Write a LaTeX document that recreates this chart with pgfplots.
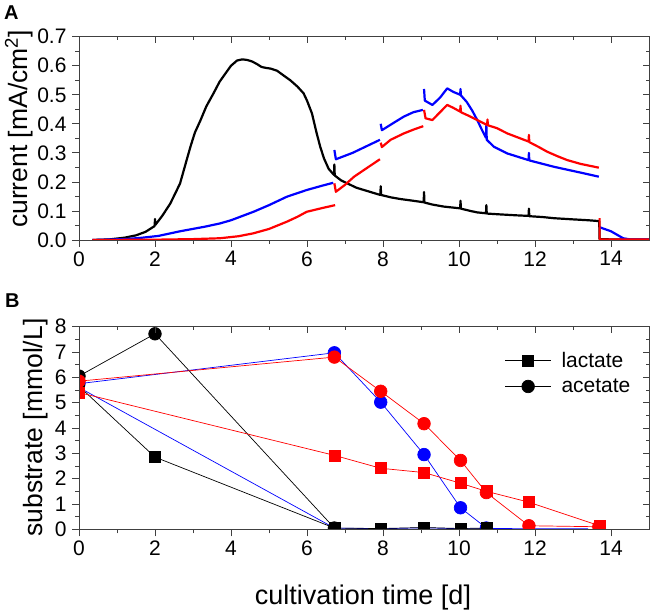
\documentclass[border=0pt]{standalone}
\usepackage{fontspec}
\setmainfont{Liberation Sans}
\usepackage{pgfplots}
\pgfplotsset{compat=1.18}
\definecolor{myblue}{RGB}{0,0,255}
\definecolor{myred}{RGB}{255,0,0}
\pgfplotsset{
  common/.style={
    scale only axis, width=570pt, xmin=0, xmax=15,
    xtick={0,2,4,6,8,10,12,14}, minor x tick num=1,
    axis line style={black!75, line width=0.8pt},
    tick style={black!75, line width=0.8pt},
    tick label style={font=\fontsize{21}{24}\selectfont, black},
    /pgf/number format/assume math mode=true,
    clip marker paths=true,
  },
  outer/.style={common, tick align=outside, xtick pos=bottom, ytick pos=left,
    major tick length=7pt, minor tick length=4pt,
    xticklabel style={yshift=-1pt}, yticklabel style={xshift=-2pt}},
  inner/.style={common, tick align=inside, xtick pos=top, ytick pos=right,
    major tick length=6pt, minor tick length=3.5pt, xticklabels={}, yticklabels={}},
  curve/.style={line width=2.2pt, no marks, line join=round},
  pts/.style={line width=0.7pt},
  panelA/.style={at={(79pt,372pt)}, anchor=south west, height=203.3pt,
    ymin=0, ymax=0.7, ytick={0,0.1,0.2,0.3,0.4,0.5,0.6,0.7}, minor y tick num=1},
  panelB/.style={at={(79pt,82.7pt)}, anchor=south west, height=202.6pt,
    ymin=0, ymax=8, ytick={0,1,2,3,4,5,6,7,8}, minor y tick num=1},
}
\begin{document}
\begin{tikzpicture}
\path[use as bounding box] (0pt,0pt) rectangle (653pt,612pt);
% ---------------- panel A
\begin{axis}[outer, panelA,
  yticklabel style={/pgf/number format/.cd, fixed, fixed zerofill, precision=1}]
% black
\addplot[curve, black] coordinates {
(0.35,0) (0.8,0.002) (1.2,0.008) (1.5,0.016) (1.75,0.028) (1.99,0.048) (2.0,0.072) (2.01,0.052)
(2.2,0.085) (2.4,0.125) (2.55,0.165) (2.66,0.195) (2.8,0.26) (2.93,0.32) (3.05,0.37) (3.19,0.41)
(3.35,0.46) (3.54,0.505) (3.7,0.545) (3.89,0.58) (4.0,0.6) (4.16,0.618) (4.3,0.622) (4.42,0.62)
(4.55,0.615) (4.68,0.606) (4.8,0.596) (4.9,0.593) (5.05,0.59) (5.21,0.583) (5.4,0.565) (5.56,0.55)
(5.75,0.528) (5.91,0.505) (6.0,0.48) (6.13,0.436) (6.25,0.37) (6.35,0.32) (6.45,0.28) (6.57,0.245)
(6.71,0.224) (6.72,0.26) (6.73,0.222) (6.9,0.205) (7.06,0.195) (7.3,0.18) (7.5,0.172)
(7.93,0.155) (7.94,0.185) (7.95,0.155) (8.2,0.147) (8.46,0.141) (8.8,0.135)
(9.07,0.13) (9.08,0.165) (9.09,0.129) (9.3,0.122) (9.6,0.115)
(10.03,0.109) (10.04,0.135) (10.05,0.108) (10.3,0.1) (10.48,0.095)
(10.71,0.092) (10.72,0.12) (10.73,0.091) (11.1,0.088) (11.5,0.085)
(11.83,0.083) (11.84,0.108) (11.85,0.082) (12.2,0.079) (12.5,0.075) (13.0,0.071) (13.4,0.068)
(13.69,0.065) (13.7,0.003) (14,0.002) (15,0.002)};
% blue
\addplot[curve, myblue] coordinates {
(0.35,0) (1.2,0.003) (1.6,0.007) (2.09,0.014) (2.66,0.03) (3.32,0.046) (3.71,0.057) (4.0,0.068)
(4.59,0.097) (5.0,0.12) (5.47,0.149) (5.99,0.172) (6.4,0.187) (6.69,0.197)};
\addplot[curve, myblue] coordinates {
(6.72,0.31) (6.76,0.278) (7.2,0.30) (7.6,0.325) (7.92,0.345)};
\addplot[curve, myblue] coordinates {
(7.94,0.4) (7.97,0.378) (8.3,0.405) (8.55,0.425) (8.8,0.44) (9.05,0.448)};
\addplot[curve, myblue] coordinates {
(9.08,0.52) (9.1,0.48) (9.3,0.465) (9.5,0.49) (9.69,0.522) (9.85,0.51) (10.03,0.5) (10.04,0.52)
(10.05,0.498) (10.2,0.476) (10.35,0.445) (10.48,0.413) (10.6,0.38) (10.71,0.352) (10.72,0.395)
(10.73,0.345) (10.92,0.321) (11.27,0.298) (11.83,0.275) (11.84,0.3) (11.85,0.274) (12.5,0.252)
(13.2,0.232) (13.68,0.218)};
\addplot[curve, myblue] coordinates {
(13.7,0.044) (14.0,0.03) (14.32,0.006) (14.5,0.002) (15,0.002)};
% red
\addplot[curve, myred] coordinates {
(0.35,0) (2,0.001) (3,0.003) (3.71,0.006) (4.2,0.013) (4.59,0.023) (5.0,0.038) (5.47,0.063)
(5.75,0.08) (5.99,0.097) (6.4,0.11) (6.74,0.12)};
\addplot[curve, myred] coordinates {
(6.72,0.195) (6.76,0.166) (7.0,0.19) (7.24,0.218) (7.6,0.25) (7.92,0.278)};
\addplot[curve, myred] coordinates {
(7.94,0.335) (7.97,0.32) (8.2,0.345) (8.55,0.367) (8.8,0.38) (9.06,0.392)};
\addplot[curve, myred] coordinates {
(9.08,0.448) (9.12,0.419) (9.3,0.413) (9.5,0.44) (9.69,0.465) (9.85,0.455) (10.03,0.442)
(10.04,0.462) (10.05,0.44) (10.25,0.428) (10.48,0.413) (10.74,0.396) (10.75,0.415) (10.76,0.395)
(11.0,0.385) (11.27,0.367) (11.55,0.353) (11.83,0.339) (11.84,0.362) (11.85,0.337) (12.1,0.32)
(12.32,0.304) (12.6,0.288) (12.85,0.275) (13.2,0.262) (13.68,0.249)};
\addplot[curve, myred] coordinates {
(13.7,0.075) (13.7,0.0) (13.72,0.002) (15,0.002)};
\end{axis}
\begin{axis}[inner, panelA]
\end{axis}
% ---------------- panel B
\begin{axis}[outer, panelB,
  legend style={at={(axis cs:11.2,7.08)}, anchor=north west, draw=none, fill=none,
    font=\fontsize{21}{24}\selectfont, row sep=6pt, column sep=8pt, inner sep=0pt},
  legend cell align=left,
  legend image code/.code={\draw[mark repeat=2,mark phase=2,#1] plot coordinates {(0pt,0pt) (23pt,0pt) (46pt,0pt)};}]
\addlegendimage{black, line width=0.7pt, mark=square*, mark size=5.5pt}
\addlegendentry{lactate}
\addlegendimage{black, line width=0.7pt, mark=*, mark size=6.3pt}
\addlegendentry{acetate}
% blue
\addplot[pts, myblue, mark=square*, mark size=5.5pt, forget plot] coordinates {
(0,5.6) (6.72,0.05) (7.94,0.02) (9.08,0.06) (10.04,0.02) (10.72,0.03)};
\addplot[pts, myblue, no marks, forget plot] coordinates {(10.72,0.03) (13.4,0.02)};
\addplot[pts, myblue, mark=*, mark size=6.3pt, forget plot] coordinates {
(0,5.75) (6.72,6.97) (7.94,5.02) (9.08,2.95) (10.04,0.85) (10.72,0.05)};
% black
\addplot[pts, black, mark=*, mark size=6.3pt, forget plot] coordinates {
(0,6.05) (2,7.72) (6.72,0.05)};
\addplot[pts, black, mark=square*, mark size=5.5pt, forget plot] coordinates {
(0,5.65) (2,2.85) (6.72,0.05) (7.94,0.03) (9.08,0.07) (10.04,0.03) (10.72,0.05)};
% red
\addplot[pts, myred, mark=*, mark size=6.3pt, forget plot] coordinates {
(0,5.85) (6.72,6.8) (7.94,5.45) (9.08,4.17) (10.04,2.72) (10.72,1.45) (11.84,0.14) (13.68,0.1)};
\addplot[pts, myred, mark=square*, mark size=5.5pt, forget plot] coordinates {
(0,5.4) (6.72,2.92) (7.94,2.41) (9.08,2.24) (10.04,1.82) (10.72,1.5) (11.84,1.07) (13.7,0.14)};
\end{axis}
\begin{axis}[inner, panelB]
\end{axis}
% labels
\node[anchor=base west, font=\bfseries\fontsize{20}{22}\selectfont, inner sep=0pt] at (4pt,592pt) {A};
\node[anchor=base west, font=\bfseries\fontsize{20}{22}\selectfont, inner sep=0pt] at (5pt,304pt) {B};
\node[rotate=90, anchor=base, font=\fontsize{26.5}{30}\selectfont, inner sep=0pt] at (27pt,483pt) {current [mA/cm\textsuperscript{2}]};
\node[rotate=90, anchor=base, font=\fontsize{26.5}{30}\selectfont, inner sep=0pt] at (42pt,184.5pt) {substrate [mmol/L]};
\node[anchor=base, font=\fontsize{27}{30}\selectfont, inner sep=0pt] at (363pt,7pt) {cultivation time [d]};
\end{tikzpicture}
\end{document}
